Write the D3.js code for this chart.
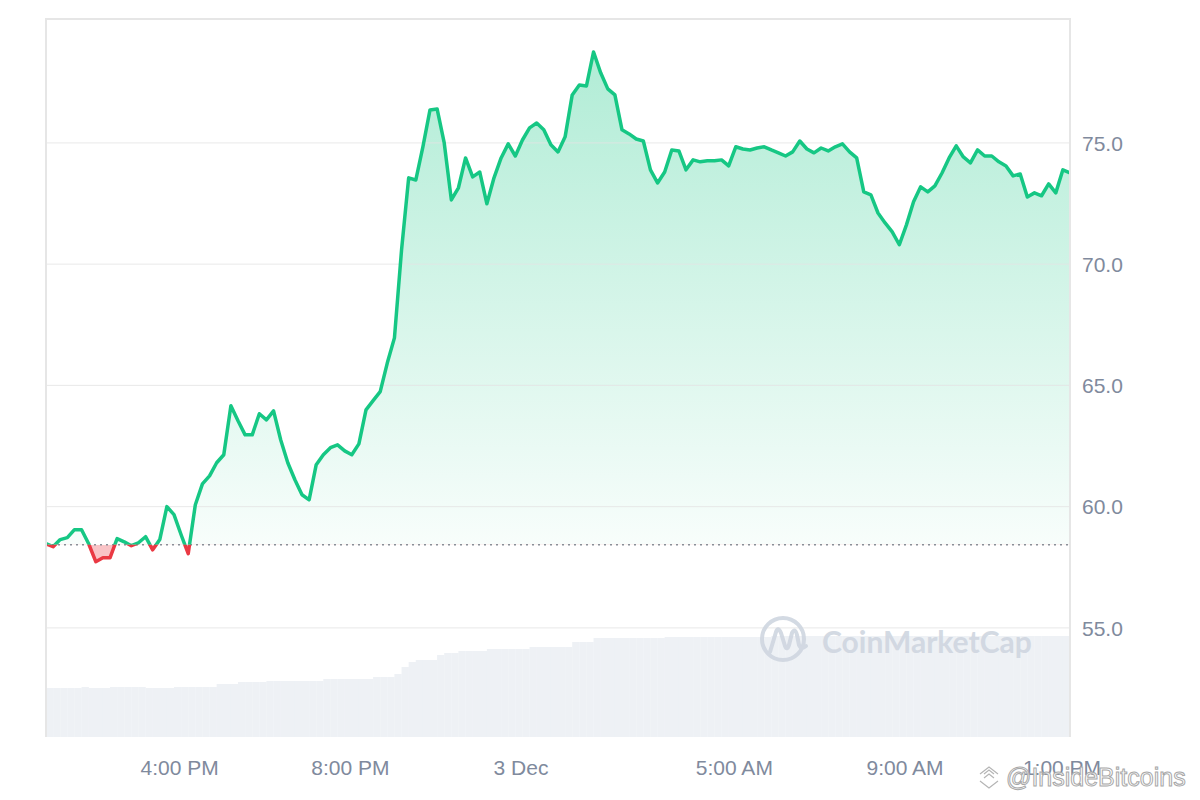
<!DOCTYPE html>
<html><head><meta charset="utf-8">
<script src="https://cdn.jsdelivr.net/npm/d3@7"></script>
<style>html,body{margin:0;padding:0;background:#fff;}svg{display:block;}</style>
</head><body>
<svg id="chart" width="1200" height="800"></svg>
<script>
// ---- data ----
const startTime = new Date(2023, 11, 2, 12, 52);   // first sample
const intervalMinutes = 10;
const price = [
58.47,58.35,58.64,58.72,59.05,59.05,58.47,57.73,57.89,57.89,
58.68,58.55,58.39,58.51,58.76,58.22,58.64,60.00,59.67,58.84,
58.06,60.08,60.94,61.27,61.81,62.14,64.16,63.54,62.96,62.96,
63.83,63.58,63.95,62.76,61.81,61.11,60.49,60.28,61.73,62.14,
62.43,62.55,62.30,62.14,62.59,63.99,64.37,64.74,65.93,66.96,
70.59,73.56,73.47,74.84,76.36,76.40,75.00,72.65,73.15,74.38,
73.60,73.80,72.49,73.56,74.38,74.96,74.46,75.12,75.62,75.82,
75.54,74.92,74.63,75.25,76.98,77.39,77.35,78.75,77.89,77.23,
76.98,75.54,75.37,75.16,75.08,73.89,73.35,73.80,74.71,74.67,
73.89,74.30,74.22,74.26,74.26,74.30,74.05,74.84,74.75,74.71,
74.79,74.84,74.71,74.59,74.46,74.63,75.08,74.75,74.59,74.79,
74.67,74.84,74.96,74.63,74.38,72.98,72.86,72.11,71.70,71.33,
70.80,71.62,72.57,73.19,72.98,73.23,73.76,74.38,74.88,74.42,
74.18,74.71,74.46,74.46,74.22,74.05,73.64,73.72,72.77,72.94,
72.82,73.31,72.94,73.89,73.76
];
const volume = [
49,49,49,49,49,50,49,49,49,50,
50,50,50,50,49,49,49,49,50,50,
50,50,50,50,53,53,53,55,55,55,
55,56,56,56,56,56,56,56,56,58,
58,58,58,58,58,58,60,60,60,63,
70,75,77,77,77,82,84,84,86,86,
86,86,88,88,88,88,88,88,90,90,
90,90,90,90,95,95,95,99,99,99,
99,99,99,99,99,99,99,100,100,100,
100,100,100,100,100,100,100,100,100,100,
100,100,101,101,101,101,101,101,101,101,
101,101,101,101,101,101,101,101,101,101,
101,101,101,101,101,101,101,101,101,101,
101,101,101,101,101,101,101,101,101,101,
101,101,101,101,101
];
const basePrice = 58.43;
const yTicks = [55, 60, 65, 70, 75];
const xTickTimes = [
  new Date(2023, 11, 2, 16, 0), new Date(2023, 11, 2, 20, 0), new Date(2023, 11, 3, 0, 0),
  new Date(2023, 11, 3, 5, 0), new Date(2023, 11, 3, 9, 0), new Date(2023, 11, 3, 13, 0)
];
const xTickLabels = ["4:00 PM", "8:00 PM", "3 Dec", "5:00 AM", "9:00 AM", "1:00 PM"];

// ---- layout ----
const L = 46, R = 1070, T = 19, B = 737;
const endTime = new Date(startTime.getTime() + 24 * 3600 * 1000);
const times = price.map((_, i) => new Date(startTime.getTime() + i * intervalMinutes * 60000));
const data = price.map((p, i) => ({ t: times[i], p, v: volume[i] }));

const x = d3.scaleTime().domain([startTime, endTime]).range([L, R]);
const y = d3.scaleLinear().domain([50.5, 80.11]).range([B, T]);
const yv = d3.scaleLinear().domain([0, d3.max(volume)]).range([B, 636]);

const svg = d3.select("#chart");
const defs = svg.append("defs");
defs.append("clipPath").attr("id", "plot").append("rect").attr("x", L).attr("y", T).attr("width", R - L).attr("height", B - T);
defs.append("clipPath").attr("id", "above").append("rect").attr("x", L).attr("y", 0).attr("width", R - L).attr("height", y(basePrice));
defs.append("clipPath").attr("id", "below").append("rect").attr("x", L).attr("y", y(basePrice)).attr("width", R - L).attr("height", B - y(basePrice));
const g1 = defs.append("linearGradient").attr("id", "gfill").attr("gradientUnits", "userSpaceOnUse")
  .attr("x1", 0).attr("x2", 0).attr("y1", y(79)).attr("y2", y(basePrice));
g1.append("stop").attr("offset", 0).attr("stop-color", "#16c784").attr("stop-opacity", 0.34);
g1.append("stop").attr("offset", 1).attr("stop-color", "#16c784").attr("stop-opacity", 0.03);

// volume bars
const step = x(times[1]) - x(times[0]);
svg.append("g").attr("clip-path", "url(#plot)").selectAll("rect").data(data).join("rect")
  .attr("x", d => x(d.t)).attr("width", step + 0.2)
  .attr("y", d => yv(d.v)).attr("height", d => B - yv(d.v))
  .attr("fill", "#eef1f5");

// price fills
const area = d3.area().x(d => x(d.t)).y0(y(basePrice)).y1(d => y(d.p)).curve(d3.curveLinear);
svg.append("path").datum(data).attr("d", area).attr("fill", "url(#gfill)").attr("clip-path", "url(#above)");
svg.append("path").datum(data).attr("d", area).attr("fill", "#ea3943").attr("fill-opacity", 0.3).attr("clip-path", "url(#below)");

// gridlines
svg.append("g").selectAll("line").data(yTicks).join("line")
  .attr("x1", L).attr("x2", R).attr("y1", d => y(d)).attr("y2", d => y(d))
  .attr("stroke", "#e3e3e3").attr("stroke-opacity", 0.8).attr("stroke-width", 1);

// baseline dotted
svg.append("line").attr("x1", L).attr("x2", R).attr("y1", y(basePrice)).attr("y2", y(basePrice))
  .attr("stroke", "#8a8f98").attr("stroke-width", 1.5).attr("stroke-dasharray", "2,4");

// price line
const line = d3.line().x(d => x(d.t)).y(d => y(d.p));
svg.append("path").datum(data).attr("d", line).attr("fill", "none").attr("stroke", "#16c784")
  .attr("stroke-width", 3.5).attr("stroke-linejoin", "round").attr("stroke-linecap", "round").attr("clip-path", "url(#above)");
svg.append("path").datum(data).attr("d", line).attr("fill", "none").attr("stroke", "#ea3943")
  .attr("stroke-width", 3.5).attr("stroke-linejoin", "round").attr("stroke-linecap", "round").attr("clip-path", "url(#below)");

// border
const border = svg.append("g").attr("stroke", "#e6e6e6").attr("stroke-width", 2).attr("fill", "none");
border.append("path").attr("d", `M${L},${B}V${T}H${R}V${B}`);

// CoinMarketCap watermark
const wm = svg.append("g").attr("opacity", 0.9);
wm.append("circle").attr("cx", 783).attr("cy", 639).attr("r", 21).attr("fill", "none").attr("stroke", "#cfd6e0").attr("stroke-width", 4);
wm.append("path").attr("d", "M770,652 L776,632 Q778,626 781,633 L785,646 Q787,651 789,645 L792,633 Q795,627 797,635 L799,645 Q801,650 806,646")
  .attr("fill", "none").attr("stroke", "#cfd6e0").attr("stroke-width", 4).attr("stroke-linecap", "round").attr("stroke-linejoin", "round");
wm.append("text").attr("x", 822).attr("y", 653).text("CoinMarketCap")
  .attr("font-family", "Lato, 'Liberation Sans', Arial, sans-serif").attr("font-weight", 700).attr("font-size", 30)
  .attr("fill", "#cfd6e0");

// y axis labels (right)
const yAxis = d3.axisRight(y).tickValues(yTicks).tickFormat(d3.format(".1f")).tickSize(0).tickPadding(0);
const ya = svg.append("g").attr("transform", `translate(1082,0)`).call(yAxis);
ya.select(".domain").remove();
ya.selectAll("text").attr("font-family", "'Liberation Sans', Arial, sans-serif").attr("font-size", 21).attr("fill", "#808a9d").attr("dy", "0.35em");

// x axis labels
const xAxis = d3.axisBottom(x).tickValues(xTickTimes).tickFormat((d, i) => xTickLabels[i]).tickSize(0).tickPadding(0);
const xa = svg.append("g").attr("transform", `translate(0,760)`).call(xAxis);
xa.select(".domain").remove();
xa.selectAll(".tick").attr("transform", d => `translate(${Math.min(x(d), 1062)},0)`);
xa.selectAll("text").attr("font-family", "'Liberation Sans', Arial, sans-serif").attr("font-size", 21).attr("fill", "#808a9d").attr("dy", "0.71em");

// InsideBitcoins watermark
const ib = svg.append("g");
ib.append("path").attr("d", "M980,774 L989,767 L998,774 M984,778 L989,774 L994,778 M980,781 L989,788 L998,781 M984,774 L989,770 L994,774")
  .attr("fill", "none").attr("stroke", "#b5b5b5").attr("stroke-width", 1.2);
ib.append("text").attr("x", 1006).attr("y", 786).text("@InsideBitcoins")
  .attr("font-family", "'Liberation Sans', Arial, sans-serif").attr("font-size", 25)
  .attr("fill", "#ffffff").attr("fill-opacity", 0.85).attr("stroke", "#a8a8a8").attr("stroke-width", 1);
</script>
</body></html>
